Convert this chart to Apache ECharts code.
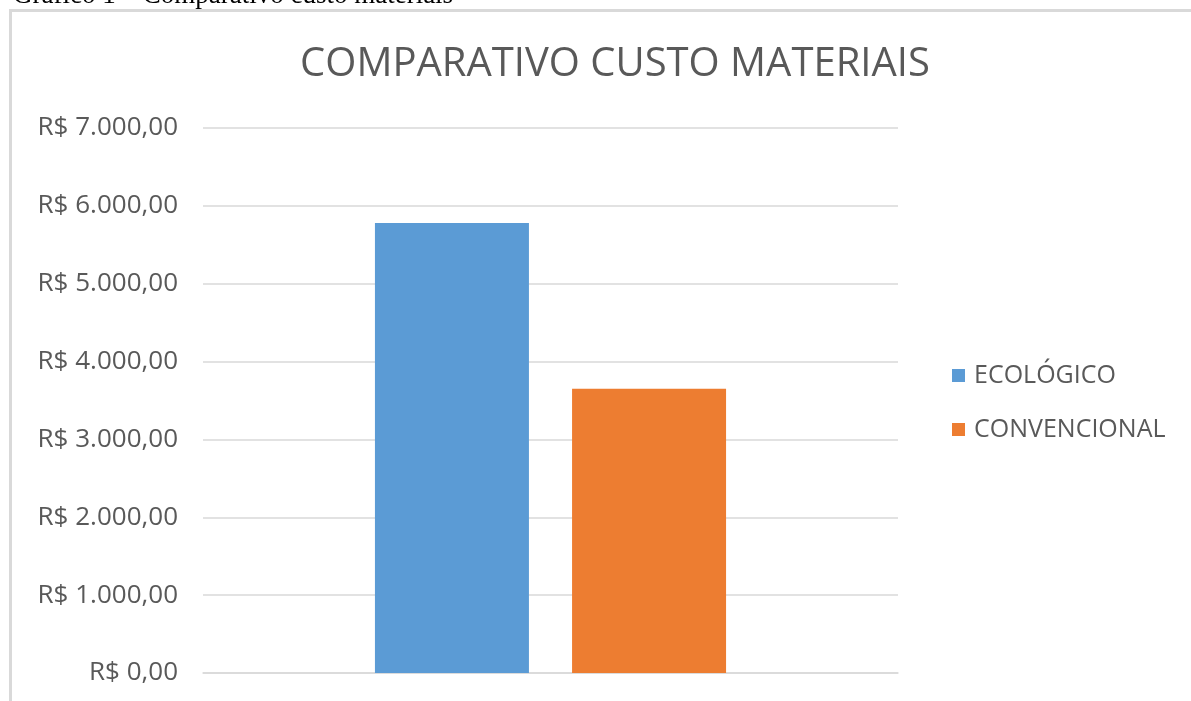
<!DOCTYPE html>
<html><head><meta charset="utf-8">
<script src="https://cdn.jsdelivr.net/npm/echarts@6/dist/echarts.min.js"></script>
<style>html,body{margin:0;padding:0;background:#fff;}#c{width:1191px;height:701px;}</style>
</head><body><div id="c"></div>
<script>
const categories = [''];
const seriesNames = ['ECOLÓGICO', 'CONVENCIONAL'];
const ecologico = [5780];
const convencional = [3650];
const yTicks = [0, 1000, 2000, 3000, 4000, 5000, 6000, 7000];

function brl(v){
  const s = Math.round(v).toString().replace(/\B(?=(\d{3})+(?!\d))/g, '.');
  return 'R$ ' + s + ',00';
}
const chart = echarts.init(document.getElementById('c'), null, {renderer:'canvas'});
chart.setOption({
  animation:false,
  backgroundColor:'#fff',
  graphic:[
    {type:'rect', shape:{x:10.5,y:10.5,width:1300,height:900}, style:{fill:'none', stroke:'#d9d9d9', lineWidth:3}},
    {type:'text', x:13, y:9, style:{text:'Gráfico 1 – Comparativo custo materiais', font:'27px "Liberation Serif"', fill:'#000', verticalAlign:'bottom'}}
  ],
  title:{text:'COMPARATIVO CUSTO MATERIAIS', left:610, top:40, textAlign:'center',
    textStyle:{fontFamily:'"Open Sans"', fontSize:40, fontWeight:'normal', color:'#595959'}},
  legend:{orient:'vertical', left:947, top:358, itemWidth:13, itemHeight:13, itemGap:29, icon:'rect',
    textStyle:{fontFamily:'"Open Sans"', fontSize:25, color:'#595959', padding:[0,0,0,4]}, data:seriesNames},
  grid:{left:203, right:293, top:128, bottom:28, containLabel:false},
  xAxis:{type:'category', data:categories, axisLine:{lineStyle:{color:'#d9d9d9', width:1.5}}, axisTick:{show:false}, axisLabel:{show:false}},
  yAxis:{type:'value', min:yTicks[0], max:yTicks[yTicks.length-1], interval:1000,
    axisLine:{show:false}, axisTick:{show:false},
    splitLine:{lineStyle:{color:'#d9d9d9', width:1.5}},
    axisLabel:{formatter:brl, margin:25, fontFamily:'"Open Sans"', fontSize:26, color:'#595959'}},
  series:[
    {name:seriesNames[0], type:'bar', data:ecologico, barWidth:154, barGap:'28%', itemStyle:{color:'#5b9bd5'}},
    {name:seriesNames[1], type:'bar', data:convencional, barWidth:154, itemStyle:{color:'#ed7d31'}}
  ]
});
</script></body></html>
